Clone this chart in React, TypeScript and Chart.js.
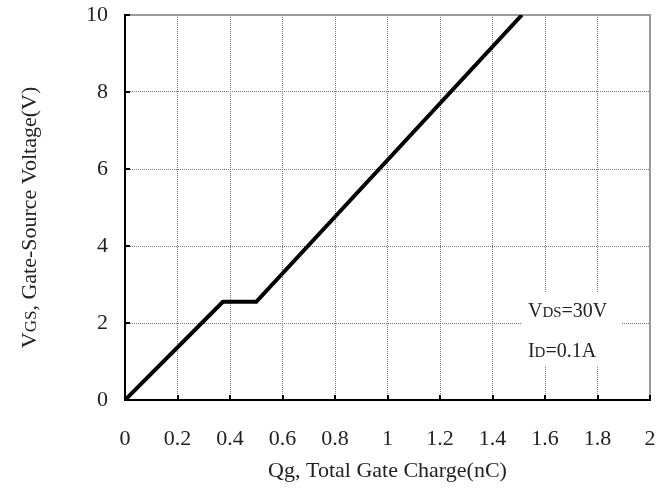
import { useEffect, useRef } from "react";
import { Chart, registerables } from "chart.js";

Chart.register(...registerables);

// Data
const chargeNC = [0, 0.373, 0.5, 1.512];
const vgsV = [0, 2.55, 2.55, 10];

const xMin = 0;
const xMax = 2;
const xStep = 0.2;
const yMin = 0;
const yMax = 10;
const yStep = 2;

const xTitle = "Qg, Total Gate Charge(nC)";
// [text, isSmall]
const yTitleParts: [string, boolean][] = [
  ["V", false],
  ["GS", true],
  [", Gate-Source Voltage(V)", false],
];
const noteLine1: [string, boolean][] = [
  ["V", false],
  ["DS", true],
  ["=30V", false],
];
const noteLine2: [string, boolean][] = [
  ["I", false],
  ["D", true],
  ["=0.1A", false],
];
// annotation box in data units
const noteBoxX = [1.51, 1.89];
const noteBoxY = [0.86, 2.8];
const noteTextX = 1.535;
const noteLineY = [2.34, 1.3];

const FONT = "'Liberation Serif', 'DejaVu Serif', serif";

function drawParts(
  ctx: CanvasRenderingContext2D,
  parts: [string, boolean][],
  x: number,
  y: number,
  big: number,
  small: number,
  align: "left" | "center"
) {
  let total = 0;
  const widths = parts.map(([t, s]) => {
    ctx.font = `${s ? small : big}px ${FONT}`;
    const w = ctx.measureText(t).width;
    total += w;
    return w;
  });
  let cx = align === "center" ? x - total / 2 : x;
  ctx.textBaseline = "alphabetic";
  ctx.textAlign = "left";
  parts.forEach(([t, s], i) => {
    ctx.font = `${s ? small : big}px ${FONT}`;
    ctx.fillText(t, cx, y);
    cx += widths[i];
  });
}

const decorPlugin = {
  id: "decor",
  beforeDatasetsDraw(chart: any) {
    const { ctx, chartArea, scales } = chart;
    const xs = scales.x;
    const ys = scales.y;
    ctx.save();
    // top and right frame (gray)
    ctx.strokeStyle = "#9a9a9a";
    ctx.lineWidth = 2;
    ctx.beginPath();
    ctx.moveTo(chartArea.left, chartArea.top);
    ctx.lineTo(chartArea.right, chartArea.top);
    ctx.lineTo(chartArea.right, chartArea.bottom);
    ctx.stroke();
    // inward tick marks
    ctx.strokeStyle = "#000";
    ctx.lineWidth = 2;
    ctx.beginPath();
    for (let v = xMin + xStep; v <= xMax + 1e-9; v += xStep) {
      const px = Math.round(xs.getPixelForValue(v));
      ctx.moveTo(px, chartArea.bottom);
      ctx.lineTo(px, chartArea.bottom - 5);
    }
    for (let v = yMin + yStep; v <= yMax + 1e-9; v += yStep) {
      const py = Math.round(ys.getPixelForValue(v));
      ctx.moveTo(chartArea.left, py);
      ctx.lineTo(chartArea.left + 5, py);
    }
    ctx.stroke();
    // annotation box
    const bx0 = xs.getPixelForValue(noteBoxX[0]);
    const bx1 = xs.getPixelForValue(noteBoxX[1]);
    const by0 = ys.getPixelForValue(noteBoxY[1]);
    const by1 = ys.getPixelForValue(noteBoxY[0]);
    ctx.fillStyle = "#fff";
    ctx.fillRect(bx0, by0, bx1 - bx0, by1 - by0);
    ctx.fillStyle = "#222";
    const tx = xs.getPixelForValue(noteTextX);
    drawParts(ctx, noteLine1, tx, ys.getPixelForValue(noteLineY[0]) + 7, 20, 15, "left");
    drawParts(ctx, noteLine2, tx, ys.getPixelForValue(noteLineY[1]) + 7, 20, 15, "left");
    ctx.restore();
  },
  afterDraw(chart: any) {
    const { ctx, chartArea } = chart;
    ctx.save();
    ctx.fillStyle = "#222";
    const cy = (chartArea.top + chartArea.bottom) / 2 + 10;
    ctx.translate(36, cy);
    ctx.rotate(-Math.PI / 2);
    drawParts(ctx, yTitleParts, 0, 0, 22, 17, "center");
    ctx.restore();
  },
};

function fmt(v: number) {
  return String(Number(v.toFixed(1)));
}

export default function App() {
  const ref = useRef<HTMLCanvasElement | null>(null);
  useEffect(() => {
    if (!ref.current) return;
    const chart = new Chart(ref.current, {
      type: "line",
      data: {
        datasets: [
          {
            data: chargeNC.map((x, i) => ({ x, y: vgsV[i] })),
            borderColor: "#000",
            borderWidth: 4,
            pointRadius: 0,
            tension: 0,
            fill: false,
          },
        ],
      },
      options: {
        animation: false,
        responsive: true,
        maintainAspectRatio: false,
        layout: { padding: { top: 15, right: 16, left: 0, bottom: 0 } },
        plugins: { legend: { display: false }, tooltip: { enabled: false } },
        scales: {
          x: {
            type: "linear",
            min: xMin,
            max: xMax,
            afterFit: (s: any) => {
              s.height = 88;
              s.paddingLeft = 0;
              s.paddingRight = 0;
            },
            ticks: {
              stepSize: xStep,
              padding: 26,
              color: "#222",
              font: { family: FONT, size: 22 },
              callback: (v: any) => fmt(Number(v)),
              maxRotation: 0,
            },
            grid: { color: "#777", lineWidth: 1, drawTicks: false },
            border: { color: "#000", width: 2, dash: [1, 1] },
            title: {
              display: true,
              text: xTitle,
              color: "#222",
              font: { family: FONT, size: 22 },
              padding: { top: 0, bottom: 4 },
            },
          },
          y: {
            type: "linear",
            min: yMin,
            max: yMax,
            afterFit: (s: any) => {
              s.width = 125;
              s.paddingTop = 0;
              s.paddingBottom = 0;
            },
            ticks: {
              stepSize: yStep,
              padding: 17,
              color: "#222",
              font: { family: FONT, size: 22 },
              callback: (v: any) => fmt(Number(v)),
            },
            grid: { color: "#777", lineWidth: 1, drawTicks: false },
            border: { color: "#000", width: 2, dash: [1, 1] },
          },
        },
      },
      plugins: [decorPlugin],
    });
    return () => chart.destroy();
  }, []);
  return (
    <div style={{ position: "absolute", left: 0, top: 0, width: 666, height: 488 }}>
      <canvas ref={ref} />
    </div>
  );
}
